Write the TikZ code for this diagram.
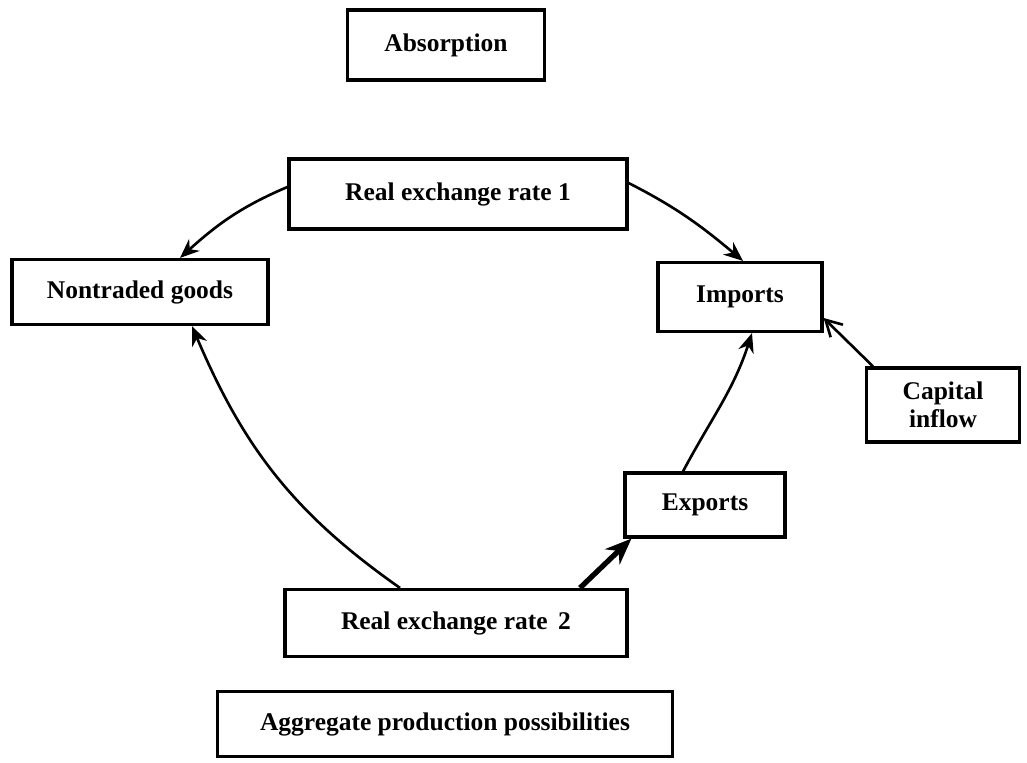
\documentclass[tikz,border=0pt]{standalone}
\usepackage{fontspec}
\setmainfont{Liberation Serif}
\usepackage{tikz}
\usetikzlibrary{arrows.meta, positioning, calc}

\begin{document}
\begin{tikzpicture}[x=0.02cm, y=-0.02cm,
    box/.style={draw, line width=1.8pt, align=center, inner sep=2pt,
                font=\fontsize{14.5}{16}\selectfont\bfseries},
    link/.style={line width=1.5pt, -{Stealth[length=11pt, width=9pt]}}]
    \useasboundingbox (0,0) rectangle (1027,763);

    % 方框
    \node[box, minimum width=3.94cm, minimum height=1.4cm] (absorb) at (446,45) {Absorption};
    \node[box, minimum width=6.76cm, minimum height=1.4cm] (rer1) at (458,194) {Real exchange rate 1};
    \node[box, minimum width=5.12cm, minimum height=1.3cm] (ntg) at (140,292) {Nontraded goods};
    \node[box, minimum width=3.28cm, minimum height=1.38cm] (imp) at (740,297) {Imports};
    \node[box, minimum width=3.06cm, minimum height=1.48cm] (cap) at (943,405) {Capital\\inflow};
    \node[box, minimum width=3.2cm, minimum height=1.28cm] (exp) at (705,505) {Exports};
    \node[box, minimum width=6.84cm, minimum height=1.34cm] (rer2) at (456,623) {Real exchange rate\, 2};
    \node[box, minimum width=9.1cm, minimum height=1.3cm] (agg) at (445,724) {Aggregate production possibilities};

    % 箭头
    \draw[link] ([yshift=0.14cm]rer1.west) to[out=203, in=42] ([xshift=0.8cm]ntg.north);
    \draw[link] ([yshift=0.22cm]rer1.east) to[out=-27, in=140] ([xshift=0.06cm]imp.north);
    \draw[link] ([xshift=-1.12cm]rer2.north) to[out=145, in=-67] ([xshift=1.04cm]ntg.south);
    \draw[line width=3pt, -{Stealth[length=15pt, width=12pt]}] ([xshift=2.48cm]rer2.north) -- ([xshift=0.16cm]exp.south west);
    \draw[link] ([xshift=-0.44cm]exp.north) to[out=62, in=-108] ([xshift=0.24cm]imp.south);
    \draw[line width=1.5pt, -{Straight Barb[length=9pt, width=10pt]}] ([xshift=-1.4cm]cap.north) -- ([yshift=-0.42cm]imp.east);
\end{tikzpicture}
\end{document}
